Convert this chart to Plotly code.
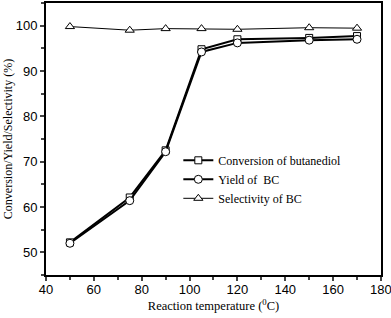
import plotly.graph_objects as go

temperature = [50, 75, 90, 105, 120, 150, 170]
conversion = [52.2, 62.1, 72.5, 94.8, 97.0, 97.3, 97.7]
yield_bc = [52.0, 61.4, 72.2, 94.2, 96.2, 96.8, 97.0]
selectivity = [99.8, 99.0, 99.35, 99.35, 99.2, 99.55, 99.45]

x_ticks = [40, 60, 80, 100, 120, 140, 160, 180]
y_ticks = [50, 60, 70, 80, 90, 100]

fig = go.Figure()
fig.add_trace(go.Scatter(x=temperature, y=conversion, mode="lines+markers",
                         name="Conversion of butanediol",
                         line=dict(color="black", width=2),
                         marker=dict(symbol="square", size=7, color="white", line=dict(width=1, color="black"))))
fig.add_trace(go.Scatter(x=temperature, y=yield_bc, mode="lines+markers",
                         name="Yield of  BC",
                         line=dict(color="black", width=2),
                         marker=dict(symbol="circle", size=8, color="white", line=dict(width=1, color="black"))))
fig.add_trace(go.Scatter(x=temperature, y=selectivity, mode="lines+markers",
                         name="Selectivity of BC",
                         line=dict(color="black", width=1),
                         marker=dict(symbol="triangle-up", size=8, color="white", line=dict(width=1, color="black"))))

fig.update_layout(
    width=391, height=318,
    margin=dict(l=46, r=10, t=3, b=43),
    paper_bgcolor="white", plot_bgcolor="white",
    font=dict(family="Liberation Serif", color="black", size=13),
    showlegend=True,
    legend=dict(x=0.395, y=0.475, xanchor="left", yanchor="top",
                font=dict(family="Liberation Serif", size=12),
                bgcolor="rgba(0,0,0,0)", tracegroupgap=0, itemwidth=30),
    xaxis=dict(range=[40, 180.02], tickvals=x_ticks, ticks="outside", ticklen=4, tickwidth=1.5,
               showline=True, linewidth=2, linecolor="black", mirror=True, showgrid=False, zeroline=False,
               tickfont=dict(family="Liberation Sans", size=13), automargin=False,
               ticklabeloverflow="allow", ticklabelstandoff=-3,
               minor=dict(dtick=10, ticks="outside", ticklen=3, tickwidth=1.5),
               title=dict(text="Reaction temperature (<sup>0</sup>C)", font=dict(family="Liberation Serif", size=12.5), standoff=3)),
    yaxis=dict(range=[45, 105], tickvals=y_ticks, ticks="outside", ticklen=4, tickwidth=1.5,
               showline=True, linewidth=2, linecolor="black", mirror=True, showgrid=False, zeroline=False,
               tickfont=dict(family="Liberation Sans", size=13), automargin=False,
               minor=dict(dtick=5, ticks="outside", ticklen=3, tickwidth=1.5),
               title=dict(text="Conversion/Yield/Selectivity (%)", font=dict(family="Liberation Serif", size=12), standoff=0)),
)

fig.write_html("out.html", config={"displayModeBar": False},
               post_script="document.body.style.margin='0';")
